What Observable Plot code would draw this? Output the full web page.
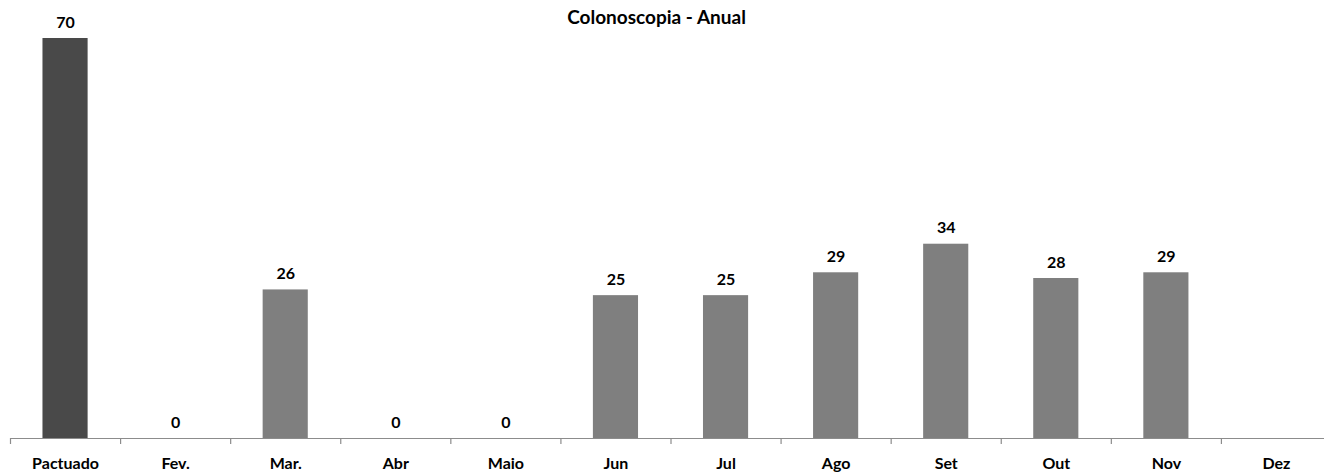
<!DOCTYPE html>
<html>
<head>
<meta charset="utf-8">
<script src="https://cdn.jsdelivr.net/npm/d3@7"></script>
<script src="https://cdn.jsdelivr.net/npm/@observablehq/plot@0.6"></script>
<style>
  html, body { margin: 0; padding: 0; background: #fff; }
  svg { display: block; }
</style>
</head>
<body>
<div id="chart"></div>
<script>
const title = "Colonoscopia - Anual";
const categories = ["Pactuado", "Fev.", "Mar.", "Abr", "Maio", "Jun", "Jul", "Ago", "Set", "Out", "Nov", "Dez"];
const values = [70, 0, 26, 0, 0, 25, 25, 29, 34, 28, 29, null];

const data = categories.map((c, i) => ({category: c, value: values[i], first: i === 0}));
const withValue = data.filter(d => d.value != null);

const W = 1324, H = 472;
const xRange = [10, 1331];
const step = (xRange[1] - xRange[0]) / categories.length;
const yPerUnit = 400 / 70;
const font = "Lato, 'Open Sans', sans-serif";

const chart = Plot.plot({
  width: W,
  height: H,
  marginTop: 38,
  marginBottom: 34,
  marginLeft: 10,
  marginRight: 0,
  style: {fontFamily: font, background: "#fff"},
  x: {domain: categories, range: xRange, round: false, paddingInner: 0.59, paddingOuter: 0.295, axis: null},
  y: {domain: [0, 70], axis: null},
  marks: [
    Plot.barY(withValue, {
      x: "category", y: "value",
      fill: d => d.first ? "#494949" : "#7f7f7f"
    }),
    Plot.ruleY([0], {stroke: "#8c8c8c", strokeWidth: 1.2}),
    Plot.ruleX(categories, {
      x: d => d, dx: -step / 2, y1: 0, y2: -6 / yPerUnit,
      stroke: "#8c8c8c", strokeWidth: 1.2
    }),
    Plot.text(withValue, {
      x: "category", y: "value", text: d => String(d.value),
      dy: -16, fontWeight: "bold", fontSize: 16, fill: "#000"
    }),
    Plot.text(categories, {
      x: d => d, y: 0, text: d => d,
      dy: 25, fontWeight: "bold", fontSize: 16, fill: "#000"
    }),
    Plot.text([title], {
      frameAnchor: "top", dx: -11, dy: -28,
      text: d => d, fontWeight: "bold", fontSize: 19, fill: "#000"
    })
  ]
});
document.getElementById("chart").appendChild(chart);
</script>
</body>
</html>
